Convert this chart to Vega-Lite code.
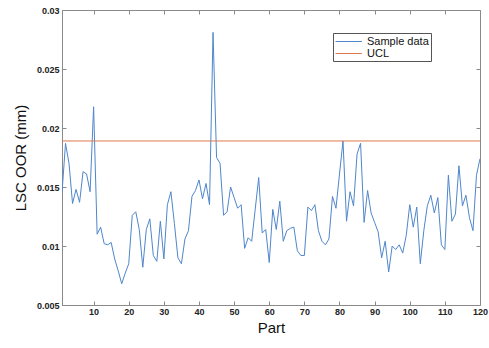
{
  "$schema": "https://vega.github.io/schema/vega-lite/v6.json",
  "width": 418,
  "height": 295,
  "autosize": {"type": "none"},
  "padding": {"left": 62, "top": 10, "right": 9, "bottom": 43},
  "background": "white",
  "config": {
    "font": "Liberation Sans",
    "view": {"stroke": "#8a8a8a", "strokeWidth": 1},
    "axis": {"grid": false, "domainColor": "#8a8a8a", "tickColor": "#8a8a8a", "labelColor": "#222", "titleColor": "#111", "labelFont": "Liberation Sans", "labelFontWeight": "bold", "labelFontSize": 9, "titleFont": "Liberation Sans", "titleFontWeight": "normal", "titleFontSize": 15}
  },
  "data": {
    "values": [
      {"part": 1, "v": 0.0145, "series": "Sample data"},
      {"part": 2, "v": 0.0187, "series": "Sample data"},
      {"part": 3, "v": 0.0170, "series": "Sample data"},
      {"part": 4, "v": 0.0136, "series": "Sample data"},
      {"part": 5, "v": 0.0148, "series": "Sample data"},
      {"part": 6, "v": 0.0137, "series": "Sample data"},
      {"part": 7, "v": 0.0163, "series": "Sample data"},
      {"part": 8, "v": 0.0161, "series": "Sample data"},
      {"part": 9, "v": 0.0146, "series": "Sample data"},
      {"part": 10, "v": 0.0218, "series": "Sample data"},
      {"part": 11, "v": 0.0110, "series": "Sample data"},
      {"part": 12, "v": 0.0116, "series": "Sample data"},
      {"part": 13, "v": 0.0102, "series": "Sample data"},
      {"part": 14, "v": 0.0101, "series": "Sample data"},
      {"part": 15, "v": 0.0103, "series": "Sample data"},
      {"part": 16, "v": 0.0089, "series": "Sample data"},
      {"part": 17, "v": 0.0079, "series": "Sample data"},
      {"part": 18, "v": 0.0068, "series": "Sample data"},
      {"part": 19, "v": 0.0077, "series": "Sample data"},
      {"part": 20, "v": 0.0085, "series": "Sample data"},
      {"part": 21, "v": 0.0126, "series": "Sample data"},
      {"part": 22, "v": 0.0129, "series": "Sample data"},
      {"part": 23, "v": 0.0114, "series": "Sample data"},
      {"part": 24, "v": 0.0082, "series": "Sample data"},
      {"part": 25, "v": 0.0114, "series": "Sample data"},
      {"part": 26, "v": 0.0123, "series": "Sample data"},
      {"part": 27, "v": 0.0092, "series": "Sample data"},
      {"part": 28, "v": 0.0087, "series": "Sample data"},
      {"part": 29, "v": 0.0121, "series": "Sample data"},
      {"part": 30, "v": 0.0089, "series": "Sample data"},
      {"part": 31, "v": 0.0135, "series": "Sample data"},
      {"part": 32, "v": 0.0146, "series": "Sample data"},
      {"part": 33, "v": 0.0119, "series": "Sample data"},
      {"part": 34, "v": 0.0090, "series": "Sample data"},
      {"part": 35, "v": 0.0085, "series": "Sample data"},
      {"part": 36, "v": 0.0106, "series": "Sample data"},
      {"part": 37, "v": 0.0113, "series": "Sample data"},
      {"part": 38, "v": 0.0142, "series": "Sample data"},
      {"part": 39, "v": 0.0147, "series": "Sample data"},
      {"part": 40, "v": 0.0156, "series": "Sample data"},
      {"part": 41, "v": 0.0140, "series": "Sample data"},
      {"part": 42, "v": 0.0153, "series": "Sample data"},
      {"part": 43, "v": 0.0135, "series": "Sample data"},
      {"part": 44, "v": 0.0281, "series": "Sample data"},
      {"part": 45, "v": 0.0175, "series": "Sample data"},
      {"part": 46, "v": 0.0170, "series": "Sample data"},
      {"part": 47, "v": 0.0126, "series": "Sample data"},
      {"part": 48, "v": 0.0129, "series": "Sample data"},
      {"part": 49, "v": 0.0150, "series": "Sample data"},
      {"part": 50, "v": 0.0141, "series": "Sample data"},
      {"part": 51, "v": 0.0132, "series": "Sample data"},
      {"part": 52, "v": 0.0135, "series": "Sample data"},
      {"part": 53, "v": 0.0098, "series": "Sample data"},
      {"part": 54, "v": 0.0107, "series": "Sample data"},
      {"part": 55, "v": 0.0104, "series": "Sample data"},
      {"part": 56, "v": 0.0131, "series": "Sample data"},
      {"part": 57, "v": 0.0158, "series": "Sample data"},
      {"part": 58, "v": 0.0111, "series": "Sample data"},
      {"part": 59, "v": 0.0114, "series": "Sample data"},
      {"part": 60, "v": 0.0086, "series": "Sample data"},
      {"part": 61, "v": 0.0131, "series": "Sample data"},
      {"part": 62, "v": 0.0114, "series": "Sample data"},
      {"part": 63, "v": 0.0138, "series": "Sample data"},
      {"part": 64, "v": 0.0104, "series": "Sample data"},
      {"part": 65, "v": 0.0113, "series": "Sample data"},
      {"part": 66, "v": 0.0115, "series": "Sample data"},
      {"part": 67, "v": 0.0116, "series": "Sample data"},
      {"part": 68, "v": 0.0096, "series": "Sample data"},
      {"part": 69, "v": 0.0092, "series": "Sample data"},
      {"part": 70, "v": 0.0092, "series": "Sample data"},
      {"part": 71, "v": 0.0133, "series": "Sample data"},
      {"part": 72, "v": 0.0130, "series": "Sample data"},
      {"part": 73, "v": 0.0135, "series": "Sample data"},
      {"part": 74, "v": 0.0113, "series": "Sample data"},
      {"part": 75, "v": 0.0104, "series": "Sample data"},
      {"part": 76, "v": 0.0101, "series": "Sample data"},
      {"part": 77, "v": 0.0106, "series": "Sample data"},
      {"part": 78, "v": 0.0142, "series": "Sample data"},
      {"part": 79, "v": 0.0132, "series": "Sample data"},
      {"part": 80, "v": 0.0161, "series": "Sample data"},
      {"part": 81, "v": 0.0189, "series": "Sample data"},
      {"part": 82, "v": 0.0121, "series": "Sample data"},
      {"part": 83, "v": 0.0146, "series": "Sample data"},
      {"part": 84, "v": 0.0134, "series": "Sample data"},
      {"part": 85, "v": 0.0178, "series": "Sample data"},
      {"part": 86, "v": 0.0187, "series": "Sample data"},
      {"part": 87, "v": 0.0120, "series": "Sample data"},
      {"part": 88, "v": 0.0147, "series": "Sample data"},
      {"part": 89, "v": 0.0128, "series": "Sample data"},
      {"part": 90, "v": 0.0120, "series": "Sample data"},
      {"part": 91, "v": 0.0112, "series": "Sample data"},
      {"part": 92, "v": 0.0090, "series": "Sample data"},
      {"part": 93, "v": 0.0104, "series": "Sample data"},
      {"part": 94, "v": 0.0078, "series": "Sample data"},
      {"part": 95, "v": 0.0100, "series": "Sample data"},
      {"part": 96, "v": 0.0097, "series": "Sample data"},
      {"part": 97, "v": 0.0101, "series": "Sample data"},
      {"part": 98, "v": 0.0094, "series": "Sample data"},
      {"part": 99, "v": 0.0109, "series": "Sample data"},
      {"part": 100, "v": 0.0135, "series": "Sample data"},
      {"part": 101, "v": 0.0116, "series": "Sample data"},
      {"part": 102, "v": 0.0133, "series": "Sample data"},
      {"part": 103, "v": 0.0085, "series": "Sample data"},
      {"part": 104, "v": 0.0113, "series": "Sample data"},
      {"part": 105, "v": 0.0134, "series": "Sample data"},
      {"part": 106, "v": 0.0143, "series": "Sample data"},
      {"part": 107, "v": 0.0128, "series": "Sample data"},
      {"part": 108, "v": 0.0141, "series": "Sample data"},
      {"part": 109, "v": 0.0101, "series": "Sample data"},
      {"part": 110, "v": 0.0097, "series": "Sample data"},
      {"part": 111, "v": 0.0160, "series": "Sample data"},
      {"part": 112, "v": 0.0121, "series": "Sample data"},
      {"part": 113, "v": 0.0127, "series": "Sample data"},
      {"part": 114, "v": 0.0168, "series": "Sample data"},
      {"part": 115, "v": 0.0134, "series": "Sample data"},
      {"part": 116, "v": 0.0143, "series": "Sample data"},
      {"part": 117, "v": 0.0124, "series": "Sample data"},
      {"part": 118, "v": 0.0113, "series": "Sample data"},
      {"part": 119, "v": 0.0160, "series": "Sample data"},
      {"part": 120, "v": 0.0174, "series": "Sample data"},
      {"part": 1, "v": 0.0189, "series": "UCL"},
      {"part": 120, "v": 0.0189, "series": "UCL"}
    ]
  },
  "layer": [
    {
      "mark": {"type": "line", "strokeWidth": 1, "clip": true},
      "encoding": {
        "x": {"field": "part", "type": "quantitative", "scale": {"domain": [1, 120], "nice": false, "zero": false},
          "axis": {"orient": "bottom", "values": [10, 20, 30, 40, 50, 60, 70, 80, 90, 100, 110, 120], "title": "Part", "tickSize": -4, "labelPadding": 6, "titlePadding": 4, "labelFlush": false}},
        "y": {"field": "v", "type": "quantitative", "scale": {"domain": [0.005, 0.03], "nice": false, "zero": false},
          "axis": {"orient": "left", "values": [0.005, 0.01, 0.015, 0.02, 0.025, 0.03], "format": ".3~f", "title": "LSC OOR (mm)", "tickSize": -4, "labelPadding": 7, "titlePadding": 8}},
        "color": {"field": "series", "type": "nominal",
          "scale": {"domain": ["Sample data", "UCL"], "range": ["#4f86cc", "#dd7a4c"]},
          "legend": {"title": null, "orient": "none", "legendX": 271, "legendY": 23, "symbolType": "M-1,0H3.4", "symbolSize": 144, "symbolStrokeWidth": 1, "labelFontSize": 11, "labelFont": "Liberation Sans", "labelColor": "#111", "rowPadding": 0, "padding": 2, "strokeColor": "#555", "fillColor": "white", "labelOffset": 19, "labelLimit": 200}}
      }
    },
    {
      "mark": {"type": "point", "opacity": 0},
      "encoding": {
        "x": {"field": "part", "type": "quantitative", "axis": {"orient": "top", "values": [10, 20, 30, 40, 50, 60, 70, 80, 90, 100, 110, 120], "labels": false, "title": null, "tickSize": -4, "domain": false}},
        "y": {"field": "v", "type": "quantitative", "axis": {"orient": "right", "values": [0.005, 0.01, 0.015, 0.02, 0.025, 0.03], "labels": false, "title": null, "tickSize": -4, "domain": false}}
      }
    }
  ],
  "resolve": {"axis": {"x": "independent", "y": "independent"}}
}
